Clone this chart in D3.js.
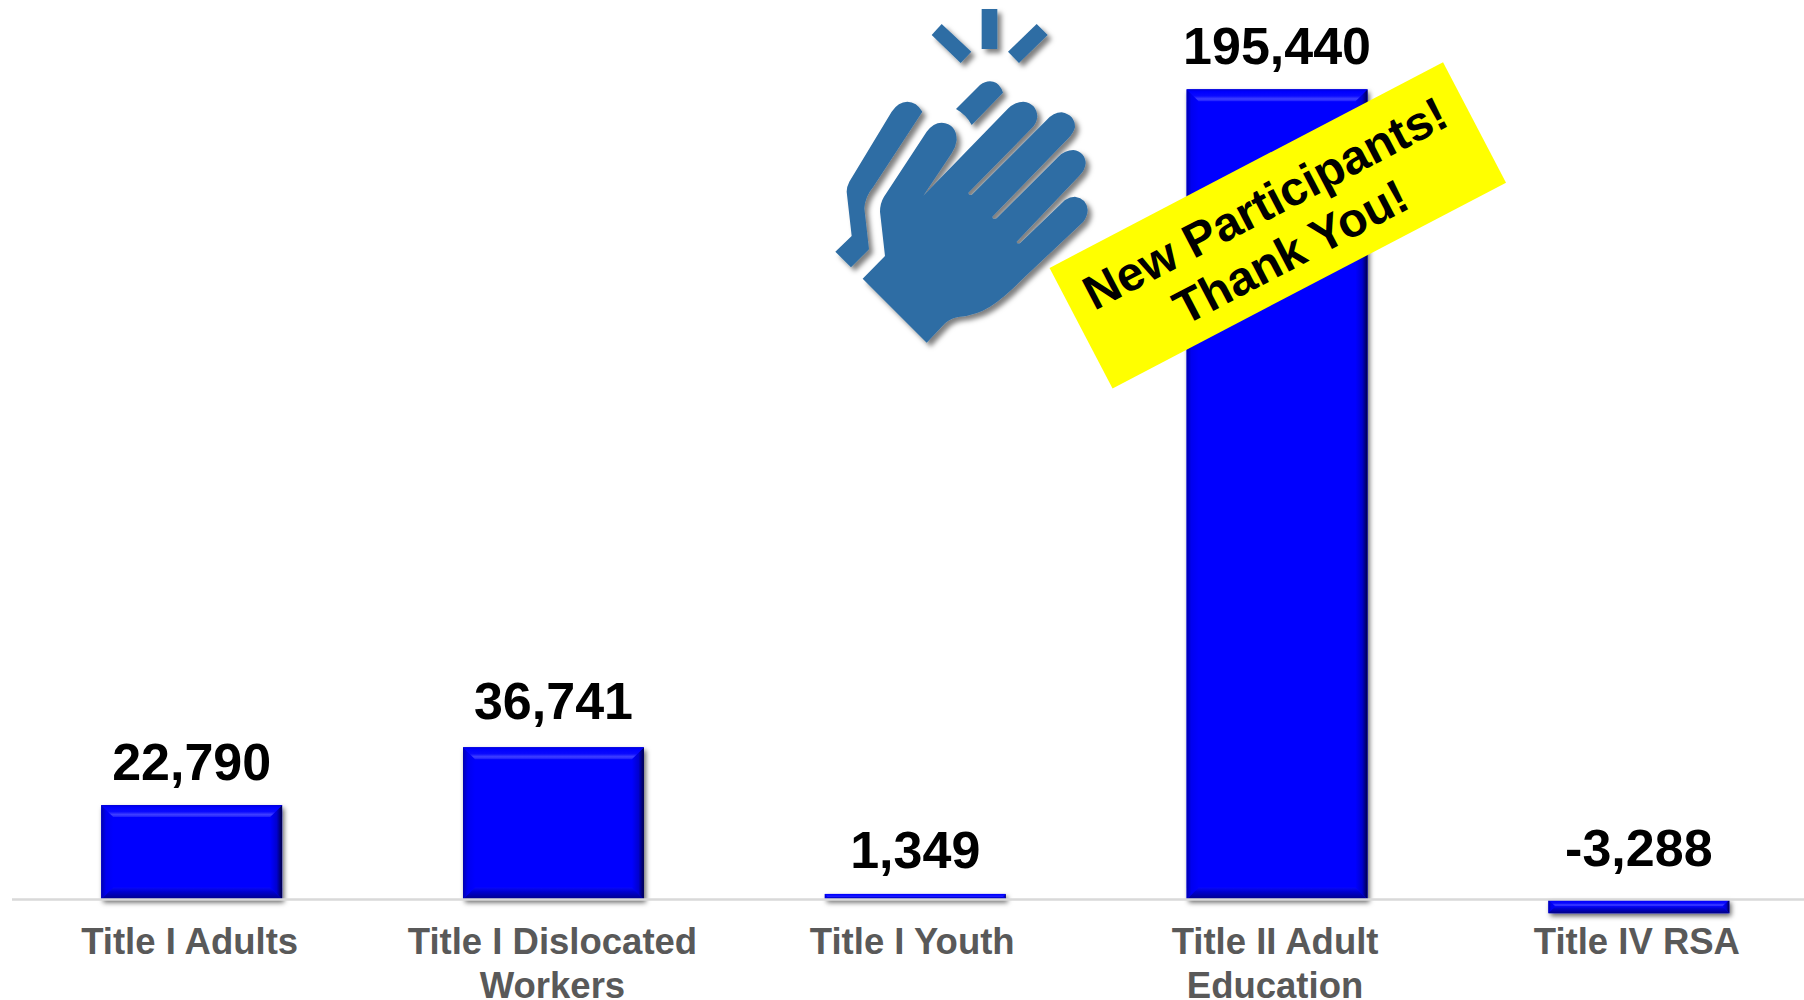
<!DOCTYPE html>
<html>
<head>
<meta charset="utf-8">
<script src="https://cdn.jsdelivr.net/npm/d3@7"></script>
<style>
  html, body { margin: 0; background: #fff; }
  svg { display: block; }
  text { font-family: "Liberation Sans", Arial, sans-serif; font-weight: bold; }
</style>
</head>
<body>
<svg id="chart" width="1804" height="1000"></svg>
<script>
// Participant counts by WIOA title
const categories = ["Title I Adults", "Title I Dislocated Workers", "Title I Youth", "Title II Adult Education", "Title IV RSA"];
const categoryLines = [["Title I Adults"], ["Title I Dislocated", "Workers"], ["Title I Youth"], ["Title II Adult", "Education"], ["Title IV RSA"]];
const values = [22790, 36741, 1349, 195440, -3288];
const valueLabels = ["22,790", "36,741", "1,349", "195,440", "-3,288"];
const calloutLines = ["New Participants!", "Thank You!"];

const svg = d3.select("#chart");
const defs = svg.append("defs");

const x = d3.scaleBand().domain(categories).range([10.75, 1819.75]).paddingInner(0.5).paddingOuter(0.25);
const y = d3.scaleLinear().domain([0, 195440]).range([899.5, 89.3]);

// Soft shadows for the bars and the hand icon
function shadowFilter(id, dx, dy, blur, opacity) {
  defs.append("filter").attr("id", id)
    .attr("filterUnits", "userSpaceOnUse")
    .attr("x", 0).attr("y", 0).attr("width", 1804).attr("height", 1000)
    .append("feDropShadow").attr("dx", dx).attr("dy", dy).attr("stdDeviation", blur)
    .attr("flood-color", "#000").attr("flood-opacity", opacity);
}
shadowFilter("barShadow", 2, 3, 2.5, 0.6);
shadowFilter("iconShadow", 4, 4, 2.5, 0.5);

function gradient(id, x2, y2, stops) {
  const g = defs.append("linearGradient").attr("id", id)
    .attr("x1", 0).attr("y1", 0).attr("x2", x2).attr("y2", y2);
  stops.forEach(([o, c]) => g.append("stop").attr("offset", o).attr("stop-color", c));
}
gradient("bevelTop", 0, 1, [[0, "#0000d8"], [0.2, "#0000ff"], [0.55, "#0a0aff"], [0.8, "#4040ff"], [1, "#1c1cff"]]);
gradient("bevelBottom", 0, 1, [[0, "#0808f8"], [0.35, "#0000d0"], [1, "#000088"]]);
gradient("bevelRight", 1, 0, [[0, "#0000ff"], [0.55, "#0000d0"], [1, "#000048"]]);
gradient("bevelLeft", 1, 0, [[0, "#0000b0"], [0.4, "#0000f0"], [1, "#0000ff"]]);

// Bars with bevelled edges
const bars = svg.selectAll("g.bar").data(values).join("g").attr("class", "bar");
bars.each(function (v, i) {
  const g = d3.select(this);
  const x0 = x(categories[i]), x1 = x0 + x.bandwidth();
  const yTop = y(Math.max(v, 0)), yBot = y(Math.min(v, 0));
  const b = Math.min(12, (yBot - yTop) / 2);
  g.append("rect").attr("x", x0).attr("y", yTop).attr("width", x1 - x0).attr("height", yBot - yTop)
    .attr("fill", "#0000ff").attr("filter", "url(#barShadow)");
  const poly = (pts, fill) => g.append("polygon").attr("points", pts.map(p => p.join(",")).join(" ")).attr("fill", fill);
  poly([[x0, yTop], [x0 + b, yTop + b], [x0 + b, yBot - b], [x0, yBot]], "url(#bevelLeft)");
  poly([[x1, yTop], [x1 - b, yTop + b], [x1 - b, yBot - b], [x1, yBot]], "url(#bevelRight)");
  poly([[x0, yTop], [x1, yTop], [x1 - b, yTop + b], [x0 + b, yTop + b]], "url(#bevelTop)");
  poly([[x0, yBot], [x1, yBot], [x1 - b, yBot - b], [x0 + b, yBot - b]], "url(#bevelBottom)");
});

// Axis baseline over the bars, with wrapped category labels
const axis = svg.append("g").attr("transform", `translate(0,${y(0)})`)
  .call(d3.axisBottom(x).tickSize(0).tickFormat(""));
axis.select(".domain").attr("d", "M12,0H1804").attr("stroke", "#d9d9d9").attr("stroke-width", 2.5);
axis.selectAll(".tick").select("text").remove();

const labelShift = [-2, -1, -3, -2, -2];
axis.selectAll(".tick").each(function (d, i) {
  const t = d3.select(this).append("text")
    .attr("text-anchor", "middle").attr("fill", "#595959").attr("font-size", 36.5);
  categoryLines[i].forEach((line, j) => {
    t.append("tspan").attr("x", labelShift[i]).attr("y", 54 + j * 44).text(line);
  });
});

// Value labels sit above the bar, or above the baseline for a negative value
const labelGap = [25, 28, 26, 25, 34];
svg.selectAll("text.value").data(values).join("text").attr("class", "value")
  .attr("x", (v, i) => x(categories[i]) + x.bandwidth() / 2)
  .attr("y", (v, i) => y(Math.max(v, 0)) - labelGap[i])
  .attr("text-anchor", "middle").attr("font-size", 52).attr("fill", "#000")
  .text((v, i) => valueLabels[i]);

// Clapping hand icon
const hand = svg.append("g").attr("filter", "url(#iconShadow)")
  .append("g").attr("transform", "translate(820,0) scale(0.33333)").attr("fill", "#2e6da4");
[
  "M46,755L95,708L80,575Q80,560 88,545L215,335Q235,305 262,305Q290,305 307,335L160,560Q135,590 133,625L147,748L93,802Z",
  "M128,836L195,768L180,635Q180,610 192,590L320,395Q340,368 365,368Q410,372 410,420Q408,440 395,460L310,587L565,325Q585,305 610,305Q650,310 652,350Q650,370 635,385L445,578Q445,587 455,585L680,360Q700,338 725,337Q765,345 765,382Q760,400 745,415L517,650Q517,660 530,655L715,470Q735,450 760,450Q795,455 797,490Q795,510 780,525L590,725Q590,733 600,730L735,600Q750,590 765,590Q800,595 803,630Q802,650 790,665L610,835Q550,895 510,920Q470,945 420,950Q395,952 375,970L320,1028Z",
  "M408,327L480,255Q500,240 520,245Q540,250 549,278L455,375Q440,345 408,327Z",
  "M365,72L454,155L422,189L335,105Z",
  "M485,27H532V147H485Z",
  "M650,72L683,105L597,189L564,155Z"
].forEach(d => hand.append("path").attr("d", d));

// Rotated thank-you callout
const callout = svg.append("g").attr("transform", "translate(1277.8,225.3) rotate(-27.6)");
callout.append("rect").attr("x", -222).attr("y", -68).attr("width", 444).attr("height", 136).attr("fill", "#ffff00");
callout.selectAll("text").data(calloutLines).join("text")
  .attr("text-anchor", "middle").attr("font-size", 48).attr("fill", "#000")
  .attr("x", -1).attr("y", (d, i) => -9 + i * 55)
  .text(d => d);
</script>
</body>
</html>
